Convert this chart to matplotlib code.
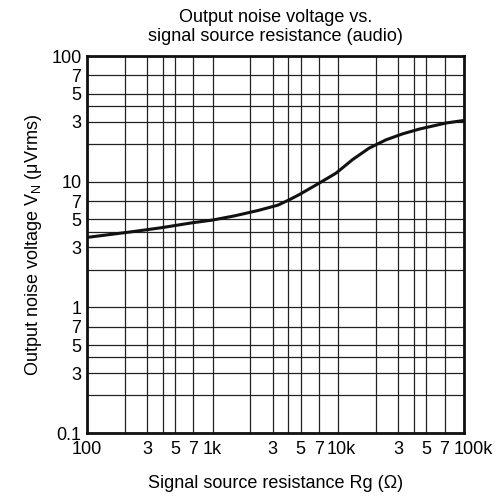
import matplotlib
matplotlib.use("Agg")
import matplotlib.pyplot as plt
import matplotlib.transforms as mtransforms
from matplotlib.ticker import FixedLocator, NullLocator

plt.rcParams['font.family'] = ['Liberation Sans', 'DejaVu Sans']

# curve
rg = [100, 230, 390, 680, 1000, 1500, 2300, 3300, 4100, 4900, 7000, 9600,
      13000, 17600, 23900, 32400, 44000, 72000, 100000]
vn = [3.6, 4.0, 4.3, 4.7, 4.95, 5.35, 5.9, 6.5, 7.2, 7.9, 9.7, 11.7,
      15.0, 18.5, 21.5, 24.0, 26.2, 29.3, 30.7]

# grid lines and labels
x_grid = [100, 200, 300, 400, 500, 700, 1000, 2000, 3000, 4000, 5000, 7000,
          10000, 20000, 30000, 40000, 50000, 70000, 100000]
x_ticks = [100, 300, 500, 700, 1000, 3000, 5000, 7000, 10000, 30000, 50000, 70000, 100000]
x_labels = ["100", "3", "5", "7", "1k", "3", "5", "7", "10k", "3", "5", "7", "100k"]
y_grid = [0.1, 0.2, 0.3, 0.4, 0.5, 0.7, 1, 2, 3, 4, 5, 7, 10, 20, 30, 40, 50, 70, 100]
y_ticks = [0.1, 0.3, 0.5, 0.7, 1, 3, 5, 7, 10, 30, 50, 70, 100]
y_labels = ["0.1", "3", "5", "7", "1", "3", "5", "7", "10", "3", "5", "7", "100"]

fig = plt.figure(figsize=(4.96, 4.97), dpi=100)
ax = fig.add_axes([87 / 496, 1 - 433 / 497, 377 / 496, 377 / 497])

ax.set_xscale("log")
ax.set_yscale("log")
ax.set_xlim(100, 100000)
ax.set_ylim(0.1, 100)

for gx in x_grid:
    ax.axvline(gx, color="#222222", lw=0.9, zorder=1)
for gy in y_grid:
    ax.axhline(gy, color="#222222", lw=0.9, zorder=1)

ax.plot(rg, vn, color="#111111", lw=2.2, zorder=3)

ax.xaxis.set_major_locator(FixedLocator(x_ticks))
ax.xaxis.set_minor_locator(NullLocator())
ax.set_xticklabels(x_labels)
ax.yaxis.set_major_locator(FixedLocator(y_ticks))
ax.yaxis.set_minor_locator(NullLocator())
ax.set_yticklabels(y_labels)
ax.tick_params(length=0, labelsize=13, pad=4)
ax.tick_params(axis="x", pad=6)

# the decade labels sit a little right of their lines, as in the original
xl = ax.get_xticklabels()
for i in (8, 12):
    shift = 9 if i == 12 else 3
    xl[i].set_transform(xl[i].get_transform() +
                        mtransforms.ScaledTranslation(shift / 100, 0, fig.dpi_scale_trans))

for s in ax.spines.values():
    s.set_linewidth(2)
    s.set_color("#111111")

ax.set_xlabel("Signal source resistance Rg (\u03a9)", fontsize=13, labelpad=12)
ax.set_ylabel("Output noise voltage V$_\\mathregular{N}$ (\u03bcVrms)", fontsize=13, labelpad=5)
ax.set_title("Output noise voltage vs.\nsignal source resistance (audio)", fontsize=13, pad=11,
             linespacing=1.15)

fig.savefig("out.png", dpi=100)
